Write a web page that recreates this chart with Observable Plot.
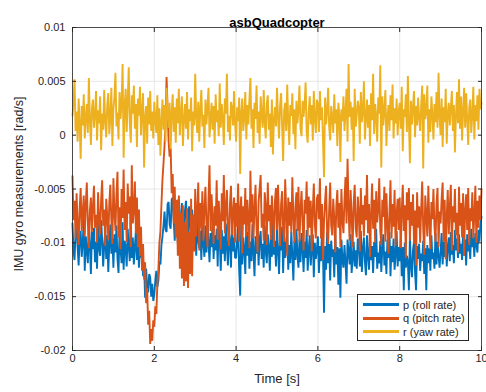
<!DOCTYPE html>
<html>
<head>
<meta charset="utf-8">
<script src="https://cdn.jsdelivr.net/npm/d3@7"></script>
<script src="https://cdn.jsdelivr.net/npm/@observablehq/plot@0.6"></script>
<style>
  html, body { margin: 0; padding: 0; background: #fff; }
  #chart { position: relative; width: 486px; height: 392px; overflow: hidden; font-family: "Liberation Sans", Arial, Helvetica, sans-serif; }
  #chart svg { display: block; }
  .legend { position: absolute; left: 357px; top: 294px; width: 112px; height: 47px; background: #fff; border: 1px solid #262626; box-sizing: border-box; padding-top: 3px; }
  .legend .row { display: flex; align-items: center; height: 13.5px; font-size: 11px; color: #262626; }
  .legend .sw { display: inline-block; width: 36px; height: 2.6px; margin: 0 4px 0 5px; }
</style>
</head>
<body>
<div id="chart"></div>
<script>
// IMU gyro readings, sampled every 0.025 s from 0 to 10 s, in units of 1e-3 rad/s
const samplePeriod = 0.025;

const pRoll = [
  -8.2, -10.8, -11.6, -9.1, -7.5, -10.4, -12.1, -9.6, -8.9, -11.3, -10.0, -7.8, -12.6, -9.4, -10.7, -11.9, -8.4, -10.2, -12.9, -9.0,
  -10.6, -8.6, -11.8, -9.9, -12.4, -8.1, -10.5, -11.2, -7.9, -9.7, -12.2, -10.3, -8.8, -11.5, -9.3, -12.7, -10.1, -8.3, -11.0, -9.6,
  -12.3, -9.2, -10.9, -8.4, -11.5, -12.8, -9.0, -10.6, -11.9, -8.1, -12.5, -9.8, -10.4, -12.2, -8.7, -10.3, -11.7, -7.7, -11.4, -9.5,
  -12.0, -10.4, -8.9, -11.6, -9.7, -12.3, -10.2, -11.4, -10.6, -13.1, -11.8, -15.1, -12.4, -14.0, -14.6, -12.9, -13.2, -15.0, -13.8, -15.4,
  -14.8, -13.5, -12.6, -14.1, -13.5, -11.7, -12.0, -10.2, -9.4, -8.4, -7.1, -8.8, -9.0, -6.4, -6.2, -8.3, -8.7, -6.0, -5.8, -7.9,
  -9.8, -6.5, -8.1, -10.0, -5.9, -7.6, -9.5, -6.3, -8.9, -10.2, -7.0, -6.1, -8.4, -9.7, -6.6, -7.8, -10.3, -6.9, -8.6, -9.9,
  -8.5, -11.2, -7.3, -9.8, -10.5, -8.9, -11.6, -7.8, -10.1, -11.3, -8.4, -10.9, -7.6, -10.0, -11.8, -9.1, -10.4, -8.0, -11.5, -9.3,
  -10.7, -8.7, -12.2, -7.9, -9.6, -12.6, -8.8, -11.0, -9.4, -11.7, -8.2, -10.3, -12.1, -9.0, -9.9, -12.3, -8.1, -10.8, -9.5, -11.4,
  -11.4, -9.8, -8.4, -12.5, -14.9, -8.3, -12.0, -9.5, -10.6, -12.9, -8.1, -11.2, -9.0, -12.4, -9.9, -11.7, -8.2, -10.9, -13.1, -9.4,
  -11.0, -8.6, -12.1, -9.7, -8.9, -11.5, -10.1, -12.3, -8.4, -10.8, -11.9, -9.2, -10.4, -12.6, -9.3, -11.3, -8.1, -11.1, -9.8, -12.2,
  -8.8, -10.6, -12.9, -9.5, -10.7, -8.5, -12.8, -9.4, -11.4, -10.3, -8.9, -12.5, -10.2, -11.9, -9.0, -11.1, -13.5, -9.8, -11.6, -8.7,
  -11.2, -12.3, -9.7, -11.8, -9.1, -10.5, -12.7, -9.9, -11.4, -8.8, -12.6, -10.7, -9.3, -12.1, -10.4, -9.2, -13.2, -10.0, -11.5, -10.6,
  -9.4, -12.8, -10.3, -11.7, -9.0, -11.1, -16.5, -10.3, -12.5, -9.0, -11.9, -10.1, -13.5, -9.8, -11.3, -10.6, -13.2, -9.2, -12.0, -10.4,
  -13.9, -10.5, -15.1, -9.7, -11.6, -12.3, -10.2, -11.9, -13.8, -9.7, -10.8, -12.0, -9.2, -12.8, -11.4, -9.9, -12.2, -10.7, -12.4, -9.6,
  -10.1, -12.2, -8.9, -12.7, -10.6, -9.5, -11.8, -13.0, -9.3, -11.2, -12.5, -9.1, -11.6, -10.3, -12.8, -9.9, -11.3, -8.7, -12.4, -10.9,
  -11.9, -9.8, -12.7, -10.5, -9.2, -12.1, -10.8, -12.9, -9.7, -11.4, -9.0, -13.1, -10.3, -11.8, -9.6, -12.5, -11.1, -8.9, -12.2, -10.4,
  -11.7, -9.6, -13.1, -10.4, -14.4, -10.0, -12.3, -11.2, -11.8, -14.4, -9.4, -12.1, -13.2, -10.7, -9.9, -12.7, -14.4, -10.3, -11.5, -10.1,
  -12.6, -11.0, -11.7, -9.8, -12.9, -10.5, -14.4, -10.2, -11.9, -10.5, -12.6, -9.3, -11.5, -10.9, -12.4, -9.1, -12.0, -9.9, -11.2, -12.3,
  -10.8, -9.1, -12.0, -9.9, -11.3, -8.6, -12.2, -10.4, -9.5, -11.7, -9.0, -11.1, -10.2, -11.9, -8.8, -10.7, -9.6, -11.4, -9.2, -11.0,
  -10.1, -11.6, -8.9, -11.2, -9.7, -12.1, -9.2, -10.8, -10.0, -11.5, -8.7, -10.4, -9.5, -11.3, -9.1, -10.2, -10.9, -8.8, -9.9, -8.2,
  -7.6
];

const qPitch = [
  -3.8, -7.9, -6.1, -9.6, -5.4, -8.3, -10.2, -6.8, -4.9, -8.9, -7.2, -5.6, -9.4, -6.4, -4.4, -8.1, -10.5, -7.0, -5.8, -9.0,
  -6.6, -4.7, -8.6, -7.4, -10.0, -5.3, -7.8, -9.2, -6.0, -4.2, -8.4, -6.9, -10.3, -5.9, -7.5, -9.7, -6.3, -4.6, -8.0, -10.1,
  -4.0, -7.1, -8.9, -5.5, -3.4, -9.5, -6.7, -10.6, -5.0, -7.7, -3.2, -8.8, -6.2, -9.9, -4.5, -7.3, -5.7, -10.4, -2.8, -8.2,
  -7.0, -4.3, -9.1, -5.8, -10.4, -6.9, -11.2, -8.5, -12.6, -10.1, -13.4, -11.8, -15.6, -14.2, -17.6, -16.3, -19.4, -18.0, -19.1, -17.2,
  -17.8, -15.9, -16.6, -13.8, -12.5, -10.0, -8.9, -6.4, -4.1, -2.6, -1.0, 1.2, 5.4, 2.6, -0.6, -2.0, -1.2, -5.4, -3.6, -8.2,
  -4.8, -9.5, -6.0, -11.2, -5.6, -12.4, -7.2, -13.3, -6.5, -14.0, -8.1, -13.6, -6.8, -14.2, -9.0, -12.9, -5.9, -13.1, -7.4, -10.8,
  -5.0, -9.4, -7.1, -4.4, -10.7, -6.3, -8.6, -5.2, -9.8, -6.9, -4.8, -8.2, -10.4, -6.0, -2.8, -8.9, -5.5, -7.6, -10.1, -6.6,
  -8.4, -4.2, -9.7, -6.1, -7.9, -10.6, -5.4, -8.0, -3.7, -9.1, -6.8, -5.1, -8.8, -10.3, -6.4, -4.7, -9.3, -7.2, -5.8, -10.0,
  -6.3, -8.5, -4.5, -9.9, -7.0, -5.7, -11.0, -6.6, -8.3, -4.9, -9.4, -6.0, -7.7, -10.5, -3.3, -8.1, -5.5, -9.6, -6.9, -4.6,
  -8.7, -10.9, -6.2, -5.0, -3.7, -8.6, -7.3, -9.8, -5.3, -6.7, -10.2, -4.4, -8.0, -6.5, -9.7, -5.6, -7.4, -10.4, -6.1, -4.9,
  -8.8, -4.6, -7.6, -10.3, -6.4, -5.2, -8.8, -9.9, -4.1, -7.0, -11.2, -5.8, -8.4, -6.2, -9.1, -3.9, -7.5, -10.0, -6.7, -5.3,
  -8.9, -4.8, -9.9, -6.9, -5.2, -8.1, -10.7, -6.0, -7.3, -4.3, -9.4, -5.7, -8.6, -6.1, -10.8, -7.0, -4.5, -8.3, -9.6, -5.9,
  -5.5, -7.8, -4.0, -9.6, -6.4, -11.6, -8.0, -6.2, -4.7, -9.1, -10.1, -7.0, -4.4, -8.4, -9.3, -5.9, -7.7, -10.9, -6.6, -5.1,
  -8.6, -6.3, -10.4, -5.0, -7.9, -9.1, -6.0, -3.9, -8.2, -2.2, -6.8, -9.8, -5.1, -7.5, -10.4, -6.3, -4.6, -8.7, -9.5, -5.7,
  -7.1, -10.8, -4.9, -8.3, -6.5, -9.4, -5.6, -7.9, -3.7, -9.1, -6.4, -11.3, -7.4, -4.5, -8.7, -6.0, -10.0, -5.2, -8.1, -6.9,
  -4.0, -8.9, -10.2, -6.0, -7.6, -4.8, -9.9, -5.4, -8.2, -11.0, -7.2, -4.2, -9.6, -6.4, -8.5, -5.1, -10.3, -7.3, -5.9, -8.8,
  -5.8, -10.5, -7.1, -4.6, -8.9, -6.5, -11.4, -5.3, -7.9, -4.9, -9.8, -6.2, -8.4, -5.5, -10.1, -7.0, -12.1, -5.3, -8.6, -6.6,
  -10.0, -6.9, -4.3, -8.7, -11.1, -5.6, -7.4, -9.4, -4.7, -8.0, -10.6, -6.2, -7.8, -5.0, -8.5, -9.9, -6.4, -4.9, -10.4, -7.1,
  -8.2, -5.9, -4.4, -9.9, -6.0, -11.5, -7.5, -5.1, -9.2, -6.7, -4.6, -10.7, -6.6, -8.1, -5.0, -9.3, -7.2, -10.9, -4.8, -8.4,
  -6.3, -9.5, -5.4, -11.2, -7.0, -5.5, -8.8, -4.9, -10.2, -6.8, -8.0, -5.3, -9.6, -7.4, -4.7, -10.0, -6.1, -8.6, -5.6, -7.9,
  -5.0
];

const rYaw = [
  1.8, 3.1, 5.2, 0.4, 2.2, -0.6, 3.4, 1.0, -2.2, 2.7, 0.9, 3.8, -0.3, 1.6, 2.9, 0.2, 5.3, 1.4, -0.9, 2.5,
  3.3, 0.7, 1.9, 4.1, -0.5, 2.3, 1.1, 3.6, -1.4, 2.0, 0.5, 4.2, 1.3, -0.2, 2.8, 3.9, 0.1, 1.7, 4.4, -1.0,
  2.4, 3.5, 5.8, 0.8, 2.1, -0.4, 4.0, 1.5, 3.0, 6.6, -2.1, 2.6, 4.3, 0.3, 3.2, 6.3, 1.2, -0.7, 3.7, 2.0,
  4.6, 0.6, 2.9, -1.1, 3.4, 1.8, 4.5, 0.0, 2.3, 3.9, -3.0, 1.6, 2.7, -0.8, 3.5, 1.0, 4.1, 0.4, 2.2, -0.3,
  3.1, 1.4, 0.2, 3.7, -0.9, 2.5, -1.9, 1.2, 3.3, 0.5, 2.8, -0.6, 4.4, 1.9, 0.7, 3.0, -1.3, 2.1, 3.8, 0.3,
  2.6, -0.7, 3.4, 1.1, 4.3, 0.0, 2.0, 3.6, -1.0, 1.5, 2.9, 0.6, 4.0, -0.4, 2.4, 1.3, 3.5, -1.5, 2.2, 0.9,
  5.7, 1.7, 0.2, 3.1, -0.6, 2.5, 4.2, 0.8, 1.9, -1.2, 3.3, 1.0, 2.6, 4.4, -0.2, 1.4, 3.0, 0.5, 2.7, -0.8,
  3.8, 1.2, 2.3, -0.1, 4.8, 0.7, 2.9, 1.6, -0.9, 3.4, 2.0, 5.7, 0.3, 1.8, -0.5, 3.1, 2.5, 0.9, 4.1, 1.1,
  -0.6, 2.6, 1.3, 3.5, -3.6, 2.1, 3.4, 0.4, 1.7, 4.0, -0.4, 2.8, 1.0, 3.3, 5.3, 0.6, 2.4, -1.2, 3.0, 1.5,
  4.6, 0.2, 2.2, -0.8, 3.6, 1.9, 0.7, 4.2, 1.2, -0.3, 2.9, 3.7, 0.5, 2.0, -1.1, 3.3, -1.8, 1.4, 2.6, 0.8,
  4.4, 1.6, -0.3, 2.7, 3.9, 0.9, -2.4, 2.3, 3.0, 0.4, 4.7, 1.3, -0.9, 2.8, 1.8, 3.9, 0.1, 2.4, -1.3, 3.2,
  1.1, 2.5, 4.6, 0.6, -0.1, 3.2, 1.7, 2.9, 4.9, 0.3, -0.7, 2.2, 3.6, 1.0, 2.8, -0.5, 4.1, 1.5, 0.2, 3.3,
  2.9, 0.3, 4.1, 1.4, 2.6, -0.5, -3.9, 3.5, 1.0, 2.2, 4.4, 0.8, -0.5, 2.7, 1.6, 0.2, 3.8, 1.1, 2.4, -1.0,
  3.0, 1.9, -2.5, 2.4, 1.3, 3.6, 0.4, 2.1, 4.3, -0.6, 6.6, 1.7, 3.1, 0.5, 2.6, -2.4, 4.3, 0.8, 1.9, 3.2,
  2.6, -0.8, 4.0, 1.2, 2.2, 5.0, -0.4, 1.6, 3.3, 0.7, 2.8, -1.0, 3.9, 1.4, 5.7, 0.1, 2.9, 1.8, -0.6, 3.5,
  2.0, 6.5, -3.0, 3.6, 0.9, 2.3, 4.2, -1.0, 1.5, 2.8, 0.4, 3.7, 1.4, 4.7, -0.3, 2.5, 1.1, 3.4, 0.0, 2.2,
  3.0, 0.6, 4.5, -1.5, 2.4, 1.7, 3.8, 0.3, 5.5, 1.2, -2.6, 3.2, 1.0, 2.6, 4.1, -0.2, 2.7, 0.9, 3.5, 1.6,
  0.4, 2.8, 4.6, -3.1, 3.8, 1.5, 2.2, 4.6, -0.7, 2.4, 0.3, 3.6, 1.9, -0.4, 2.9, 1.2, 4.0, 0.7, 5.8, 1.8,
  0.0, 3.4, -1.1, 2.6, 1.2, 4.3, -0.8, 2.0, 3.0, 0.9, 2.5, 4.1, 0.4, 2.8, -1.6, 1.7, 4.0, 1.1, 5.2, 0.6,
  3.6, -0.5, 2.2, 4.4, 0.7, 3.9, 1.5, -0.9, 2.6, 3.3, 0.2, 1.9, 4.5, -0.4, 2.8, 1.3, 3.7, 0.5, 4.3, 2.4,
  3.0
];

const seriesNames = ["p (roll rate)", "q (pitch rate)", "r (yaw rate)"];
const seriesColors = ["#0072BD", "#D95319", "#EDB120"];
const xTicks = [0, 2, 4, 6, 8, 10];
const yTicks = [-0.02, -0.015, -0.01, -0.005, 0, 0.005, 0.01];

// long-format table: one row per sample per series, converted to rad/s
const rows = [];
[pRoll, qPitch, rYaw].forEach((values, s) => {
  values.forEach((v, i) => rows.push({series: seriesNames[s], t: i * samplePeriod, w: v / 1000}));
});

const fmtY = d => String(Math.round(d * 1000) / 1000);
const ink = "#262626";
const font = '"Liberation Sans", Arial, Helvetica, sans-serif';

const chart = Plot.plot({
  width: 486,
  height: 392,
  marginTop: 27,
  marginBottom: 42,
  marginLeft: 72,
  marginRight: 5,
  style: {fontFamily: font, fontSize: "11px", color: ink, background: "#fff"},
  x: {domain: [0, 10], ticks: xTicks},
  y: {domain: [-0.02, 0.01], ticks: yTicks},
  color: {domain: seriesNames, range: seriesColors},
  marks: [
    Plot.gridX(xTicks, {stroke: "#dcdcdc", strokeOpacity: 1, strokeWidth: 0.7}),
    Plot.gridY(yTicks, {stroke: "#dcdcdc", strokeOpacity: 1, strokeWidth: 0.7}),
    Plot.lineY(rows, {x: "t", y: "w", z: "series", stroke: "series", strokeWidth: 1.9, strokeLinejoin: "miter"}),
    Plot.frame({stroke: ink, strokeWidth: 0.8}),
    Plot.axisX(xTicks, {anchor: "bottom", tickSize: -4, tickPadding: 8, stroke: ink, fill: ink, fontSize: 11, label: null}),
    Plot.axisX(xTicks, {anchor: "top", tickSize: -4, tickFormat: () => "", stroke: ink, label: null}),
    Plot.axisY(yTicks, {anchor: "left", tickSize: -4, tickPadding: 11, tickFormat: fmtY, stroke: ink, fill: ink, fontSize: 11, label: null}),
    Plot.axisY(yTicks, {anchor: "right", tickSize: -4, tickFormat: () => "", stroke: ink, label: null}),
    Plot.text(["asbQuadcopter"], {frameAnchor: "top", dy: -10, fontSize: 13, fontWeight: "bold", fill: "#000"}),
    Plot.text(["Time [s]"], {frameAnchor: "bottom", dy: 32, fontSize: 13, fill: ink}),
    Plot.text(["IMU gyro measurements [rad/s]"], {frameAnchor: "left", dx: -54, dy: -5, rotate: -90, textAnchor: "middle", fontSize: 12.5, fill: ink})
  ]
});

const host = document.getElementById("chart");
host.appendChild(chart);

// legend box in the lower right of the axes
const legend = document.createElement("div");
legend.className = "legend";
seriesNames.forEach((name, i) => {
  const row = document.createElement("div");
  row.className = "row";
  const sw = document.createElement("span");
  sw.className = "sw";
  sw.style.background = seriesColors[i];
  const label = document.createElement("span");
  label.textContent = name;
  row.appendChild(sw);
  row.appendChild(label);
  legend.appendChild(row);
});
host.appendChild(legend);
</script>
</body>
</html>
